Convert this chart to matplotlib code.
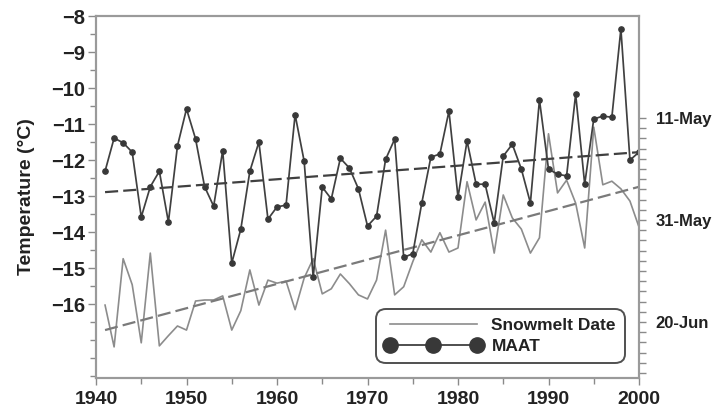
import matplotlib
matplotlib.use('Agg')
import numpy as np
import matplotlib.pyplot as plt
from matplotlib.lines import Line2D
from matplotlib.ticker import MultipleLocator, FixedLocator

plt.rcParams['font.family'] = ['Liberation Sans', 'DejaVu Sans']
plt.rcParams['font.weight'] = 'bold'

years = list(range(1941, 2001))
maat = [-12.31, -11.39, -11.52, -11.78, -13.58, -12.74, -12.31, -13.72, -11.61, -10.58,
        -11.41, -12.74, -13.28, -11.74, -14.86, -13.92, -12.31, -11.50, -13.64, -13.30,
        -13.25, -10.74, -12.03, -15.25, -12.75, -13.08, -11.95, -12.22, -12.80, -13.83,
        -13.56, -11.98, -11.42, -14.70, -14.60, -13.19, -11.92, -11.83, -10.64, -13.03,
        -11.47, -12.67, -12.67, -13.75, -11.89, -11.56, -12.25, -13.19, -10.33, -12.25,
        -12.39, -12.44, -10.17, -12.67, -10.86, -10.78, -10.81, -8.36, -12.00, -11.78]
snowmelt_doy = [167.7, 175.9, 158.6, 163.7, 175.1, 157.5, 175.7, 173.7, 171.8, 172.6,
                166.9, 166.7, 166.7, 165.9, 172.6, 168.8, 160.8, 167.7, 162.8, 163.4,
                163.0, 168.6, 162.4, 158.6, 165.5, 164.5, 161.6, 163.5, 165.7, 166.5,
                162.8, 153.0, 165.7, 164.1, 159.2, 154.9, 157.3, 153.5, 157.3, 156.5,
                143.5, 151.0, 147.5, 157.5, 146.1, 150.6, 152.8, 157.5, 154.5, 134.1,
                145.7, 143.2, 147.7, 156.5, 132.8, 144.1, 143.4, 144.9, 147.3, 152.4]
trend_years = [1941, 2000]
maat_trend = [-12.89, -11.78]
snow_trend = [172.6, 144.5]

temp_ticks = [-8, -9, -10, -11, -12, -13, -14, -15, -16]
year_ticks = [1940, 1950, 1960, 1970, 1980, 1990, 2000]
date_ticks = [131, 151, 171]
date_labels = ['11-May', '31-May', '20-Jun']

W, H = 713, 413
fig = plt.figure(figsize=(W / 100, H / 100), dpi=100)
ax = fig.add_axes([96 / W, 1 - 378 / H, 543 / W, 362 / H])
ax2 = ax.twinx()
ax.set_zorder(ax2.get_zorder() + 1)
ax.patch.set_visible(False)

snow_c = '#8c8c8c'
dark_c = '#404040'

ax2.plot(years, snowmelt_doy, color=snow_c, lw=1.2)
ax2.plot(trend_years, snow_trend, color='#7a7a7a', lw=1.6, dashes=(5.9, 2.3))
ax.plot(years, maat, color=dark_c, lw=1.25, marker='o', ms=3.8, mfc='#383838', mec='#383838')
ax.plot(trend_years, maat_trend, color=dark_c, lw=1.6, dashes=(5.9, 2.3))

ax.set_xlim(1940, 2000)
ax.set_ylim(-18.05, -8)
ax2.set_ylim(182, 111)

text_c = '#222222'
tick_c = '#8a8a8a'
ax.set_yticks(temp_ticks)
ax.set_yticklabels([f'\u2212{abs(t)}' for t in temp_ticks])
ax.yaxis.set_minor_locator(MultipleLocator(0.5))
ax.set_xticks(year_ticks)
ax.xaxis.set_minor_locator(MultipleLocator(5))
ax.tick_params(axis='y', which='major', direction='out', length=6, width=1, color=tick_c,
               pad=2, labelsize=14.5, labelcolor=text_c)
ax.tick_params(axis='y', which='minor', direction='out', length=4, width=1, color=tick_c)
ax.tick_params(axis='x', which='major', direction='out', length=5, width=1, color=tick_c,
               pad=4, labelsize=14, labelcolor=text_c)
ax.tick_params(axis='x', which='minor', direction='out', length=4, width=1, color=tick_c)

ax2.set_yticks(date_ticks)
ax2.set_yticklabels(date_labels)
ax2.yaxis.set_minor_locator(FixedLocator([d for d in range(131, 182, 2) if d not in date_ticks]))
ax2.tick_params(axis='y', which='both', direction='out', length=5, width=1, color=tick_c,
                pad=7, labelsize=12, labelcolor=text_c)

for a in (ax, ax2):
    for s in a.spines.values():
        s.set_color('#9a9a9a')
        s.set_linewidth(1.5)

ax.set_ylabel('Temperature (\u00b0C)', fontsize=14, fontweight='bold', color=text_c, labelpad=11)

handles = [Line2D([], [], color=snow_c, lw=1.2),
           Line2D([], [], color=dark_c, lw=1.3, marker='o', ms=11, mfc='#383838', mec='#383838')]
leg = ax.legend(handles, ['Snowmelt Date', 'MAAT'], loc='lower left',
                bbox_to_anchor=(0.5157, 0.041), borderaxespad=0, numpoints=3,
                prop={'size': 12.5, 'weight': 'bold'}, handlelength=5.6, handletextpad=0.55,
                borderpad=0.5, labelspacing=0.35, frameon=True, fancybox=True,
                framealpha=1, edgecolor='#505050', facecolor='white')
leg.get_frame().set_boxstyle('round,pad=0,rounding_size=0.55')
leg.get_frame().set_linewidth(1.4)
for t in leg.get_texts():
    t.set_color(text_c)

fig.savefig('out.png', dpi=100)
